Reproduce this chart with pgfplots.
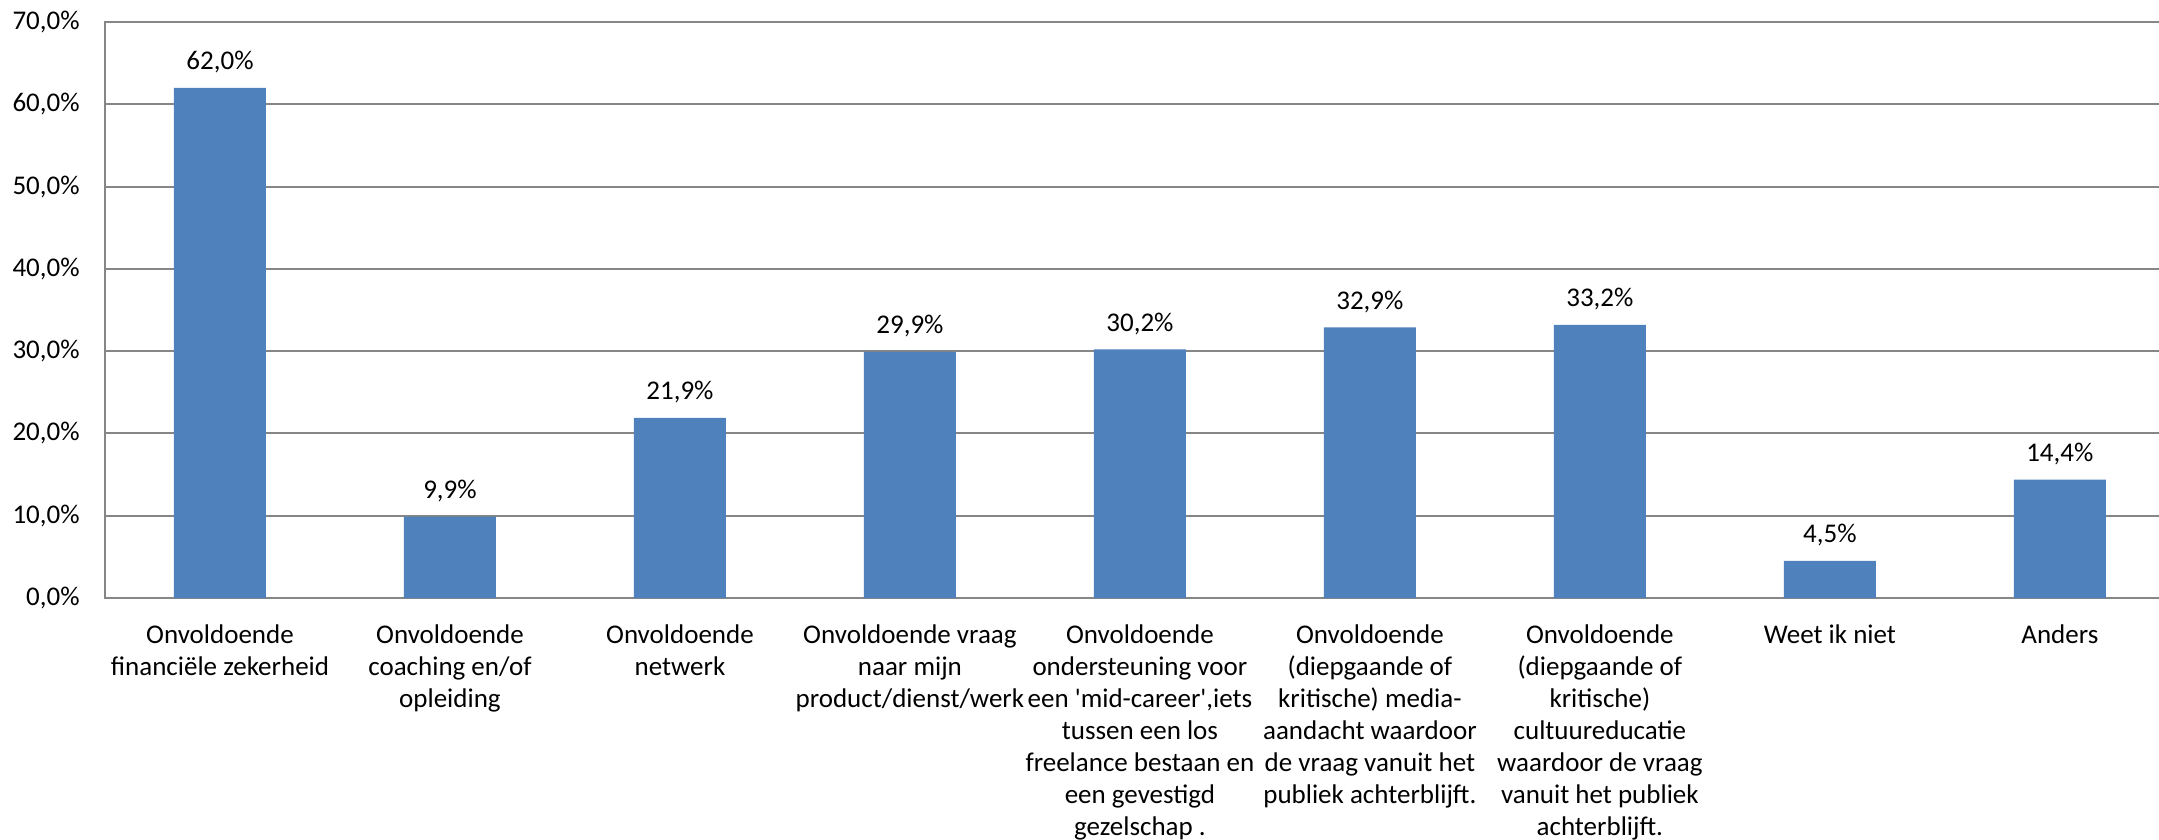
\documentclass[border=0pt]{standalone}
\usepackage{fontspec}
\setmainfont{Carlito}
\usepackage{pgfplots}
\pgfplotsset{compat=1.18}
\definecolor{barblue}{RGB}{79,129,189}
\definecolor{gridgray}{RGB}{134,134,134}
\begin{document}
\fontsize{13.5pt}{16pt}\selectfont
\begin{tikzpicture}
\useasboundingbox (-52.5pt,-121pt) rectangle (1027pt,299pt);
\begin{axis}[
  at={(0,0)}, anchor=south west,
  scale only axis,
  width=1035pt, height=288pt,
  xmin=-0.5, xmax=8.5,
  ymin=0, ymax=70,
  ytick={0,10,20,30,40,50,60,70},
  xtick={0,...,8},
  xticklabels={
    {Onvoldoende\\financiële zekerheid},
    {Onvoldoende\\coaching en/of\\opleiding},
    {Onvoldoende\\netwerk},
    {Onvoldoende vraag\\naar mijn\\product/dienst/werk},
    {Onvoldoende\\ondersteuning voor\\een \textquotesingle mid-career\textquotesingle,iets\\tussen een los\\freelance bestaan en\\een gevestigd\\gezelschap .},
    {Onvoldoende\\(diepgaande of\\kritische) media-\\aandacht waardoor\\de vraag vanuit het\\publiek achterblijft.},
    {Onvoldoende\\(diepgaande of\\kritische)\\cultuureducatie\\waardoor de vraag\\vanuit het publiek\\achterblijft.},
    {Weet ik niet},
    {Anders}},
  x tick label style={align=center, font=\fontsize{13.5pt}{16pt}\selectfont, anchor=north, inner sep=0pt, yshift=-13pt},
  y tick label style={font=\fontsize{13.5pt}{16pt}\selectfont, anchor=east, inner sep=0pt, xshift=-12.5pt},
  yticklabel={\pgfmathprintnumber[fixed,fixed zerofill,precision=1,use comma,assume math mode=true]{\tick}\%},
  major tick length=0pt,
  ymajorgrids,
  grid style={gridgray, line width=1pt},
  axis line style={gridgray, line width=1pt},
  ybar, bar width=46pt,
  nodes near coords={\pgfmathprintnumber[fixed,fixed zerofill,precision=1,use comma,assume math mode=true]{\pgfplotspointmeta}\%},
  nodes near coords style={font=\fontsize{13.5pt}{16pt}\selectfont, anchor=base, inner sep=0pt, yshift=9pt},
  axis on top=false,
]
\addplot[fill=barblue, draw=none] coordinates {
(0,62.0) (1,9.9) (2,21.9) (3,29.9) (4,30.2) (5,32.9) (6,33.2) (7,4.5) (8,14.4)};
\end{axis}
\end{tikzpicture}
\end{document}
